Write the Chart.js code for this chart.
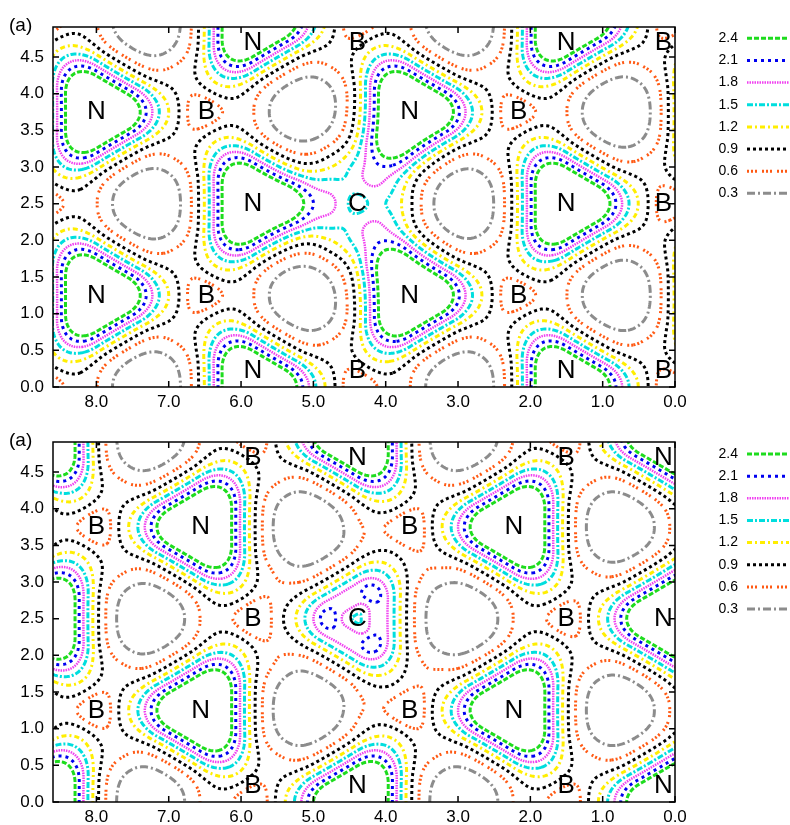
<!DOCTYPE html>
<html lang="en">
<head>
<meta charset="UTF-8" />
<title>Density contours</title>
<script src="https://cdn.jsdelivr.net/npm/chart.js"></script>
<style>
  html, body { margin: 0; padding: 0; background: #fff; }
  canvas { display: block; }
</style>
</head>
<body>
<canvas id="chartTop" width="790" height="412"></canvas>
<canvas id="chartBottom" width="790" height="413"></canvas>

<script>
// contour levels and their line styles
const levels = [2.4, 2.1, 1.8, 1.5, 1.2, 0.9, 0.6, 0.3];
const levelColors = ["#1edc1e", "#0000f0", "#f040f0", "#00dede", "#ffee00", "#000000", "#ff5a14", "#8c8c8c"];
const levelDash = [[5, 2], [3, 4], [1.5, 1], [6, 2, 2, 2], [5, 3, 2, 3], [3, 3], [2, 2, 2, 2, 2, 5], [8, 3, 2, 3]];
const levelWidth = [3, 3, 2.5, 3, 3, 3, 3, 3];

// axes
const xTicks = [8, 7, 6, 5, 4, 3, 2, 1, 0];
const yTicks = [0, 0.5, 1, 1.5, 2, 2.5, 3, 3.5, 4, 4.5];
const xRange = [0, 8.6];
const yRange = [0, 4.91];

// atom sites (Å); the lattice repeats every 4.33 x 2.5
const latticeStep = [4.33, 2.5];

// top panel: C sits on a B site
const topNX = [8.0, 8.0, 3.67, 3.67, 5.835, 5.835, 5.835, 1.505, 1.505, 1.505];
const topNY = [1.25, 3.75, 1.25, 3.75, 0.0, 2.5, 5.0, 0.0, 2.5, 5.0];
const topBX = [6.48, 6.48, 2.16, 2.16, 4.392, 4.392, 0.062, 0.062, 0.062];
const topBY = [1.25, 3.75, 1.25, 3.75, 0.0, 5.0, 0.0, 2.5, 5.0];
const topC = [4.392, 2.5];

// bottom panel: C sits on an N site
const botNX = [6.557, 6.557, 2.227, 2.227, 4.392, 4.392, 0.062, 0.062, 0.062];
const botNY = [1.25, 3.75, 1.25, 3.75, 0.0, 5.0, 0.0, 2.5, 5.0];
const botBX = [8.0, 8.0, 3.67, 3.67, 5.835, 5.835, 5.835, 1.505, 1.505, 1.505];
const botBY = [1.25, 3.75, 1.25, 3.75, 0.0, 2.5, 5.0, 0.0, 2.5, 5.0];
const botC = [4.392, 2.5];

// ---- density model around the atoms
const EPS = 0.21, N_AMP = 3.83, W2 = 0.623, P = 2.0;
const B_DIP = 0.15, B_W2 = 0.075;

function smooth(t) {
  t = Math.min(1, Math.max(0, t));
  return t * t * (3 - 2 * t);
}

// anisotropic distance: rounded triangle near the atom (vertices toward B),
// softer three-fold shape further out
function effDist(dx, dy, dir) {
  const r = Math.sqrt(dx * dx + dy * dy);
  if (r < 1e-9) return 0;
  const a0 = Math.max(0, -dir * dx);
  const a1 = Math.max(0, dir * 0.5 * dx + 0.866 * dy);
  const a2 = Math.max(0, dir * 0.5 * dx - 0.866 * dy);
  const sTri = 1.266 * Math.pow(Math.pow(a0, P) + Math.pow(a1, P) + Math.pow(a2, P), 1 / P);
  const cp = dir * dx / r;
  const c = 4 * cp * cp * cp - 3 * cp;
  const e = c > 0 ? EPS * Math.exp(-Math.pow(Math.max(0, r - 1), 2) / 0.1) : EPS;
  const sCos = r / (1 + e * c);
  const m = smooth((r - 0.8) / 0.5);
  return sTri * (1 - m) + sCos * m;
}

function expandSites(xs, ys, cPos) {
  const out = [];
  for (let k = 0; k < xs.length; k++) {
    for (const sx of [-1, 0, 1]) for (const sy of [-1, 0, 1]) {
      const px = xs[k] + sx * latticeStep[0], py = ys[k] + sy * latticeStep[1];
      if (Math.hypot(px - cPos[0], py - cPos[1]) < 0.1) continue;
      if (out.some(p => Math.hypot(p[0] - px, p[1] - py) < 0.1)) continue;
      out.push([px, py]);
    }
  }
  return out;
}

function density(x, y, nSites, bSites, dir, cPos, cOnB) {
  let v = 0;
  for (let k = 0; k < nSites.length; k++) {
    const dx = x - nSites[k][0], dy = y - nSites[k][1];
    if (dx * dx + dy * dy > 9) continue;
    const s = effDist(dx, dy, dir);
    v += N_AMP * Math.exp(-s * s / W2);
  }
  for (let k = 0; k < bSites.length; k++) {
    const dx = x - bSites[k][0], dy = y - bSites[k][1];
    const r2 = dx * dx + dy * dy;
    if (r2 < 1) v -= B_DIP * Math.exp(-r2 / B_W2);
  }
  const dx = x - cPos[0], dy = y - cPos[1];
  const r2 = dx * dx + dy * dy;
  if (r2 < 9) {
    if (cOnB) {
      v += 1.05 * Math.exp(-r2 / 0.5) - 0.25 * Math.exp(-r2 / 0.0144);
    } else {
      const s = effDist(dx, dy, dir);
      v += 2.95 * Math.exp(-s * s / W2) - 1.5 * Math.exp(-s * s / 0.0988);
      const dirs = [[dir, 0], [-dir / 2, 0.866], [-dir / 2, -0.866]];
      for (const u of dirs) {
        const bx = dx - 0.4 * u[0], by = dy - 0.4 * u[1];
        v += 0.35 * Math.exp(-(bx * bx + by * by) / 0.0169);
      }
    }
  }
  return v;
}

// ---- grid + marching squares
const GX0 = -0.3, GY0 = -0.3, GH = 0.025;
const GNX = Math.round((8.9 - GX0) / GH) + 1;
const GNY = Math.round((5.2 - GY0) / GH) + 1;

function buildField(nx, ny, bx, by, cPos, cOnB, dir) {
  const nSites = expandSites(nx, ny, cPos);
  const bSites = expandSites(bx, by, cPos);
  const f = new Float64Array(GNX * GNY);
  for (let j = 0; j < GNY; j++) {
    for (let i = 0; i < GNX; i++) {
      f[j * GNX + i] = density(GX0 + i * GH, GY0 + j * GH, nSites, bSites, dir, cPos, cOnB);
    }
  }
  return f;
}

function traceLevel(f, L) {
  const at = (i, j) => f[j * GNX + i];
  const segA = [], segB = [];
  const add = (a, b) => { segA.push(a); segB.push(b); };
  for (let j = 0; j < GNY - 1; j++) {
    for (let i = 0; i < GNX - 1; i++) {
      const v0 = at(i, j), v1 = at(i + 1, j), v2 = at(i + 1, j + 1), v3 = at(i, j + 1);
      const k = (v0 > L ? 1 : 0) | (v1 > L ? 2 : 0) | (v2 > L ? 4 : 0) | (v3 > L ? 8 : 0);
      if (k === 0 || k === 15) continue;
      const e0 = (j * GNX + i) * 2, e1 = (j * GNX + i + 1) * 2 + 1;
      const e2 = ((j + 1) * GNX + i) * 2, e3 = (j * GNX + i) * 2 + 1;
      const mid = (v0 + v1 + v2 + v3) / 4 > L;
      switch (k) {
        case 1: case 14: add(e3, e0); break;
        case 2: case 13: add(e0, e1); break;
        case 3: case 12: add(e3, e1); break;
        case 4: case 11: add(e1, e2); break;
        case 6: case 9: add(e0, e2); break;
        case 7: case 8: add(e2, e3); break;
        case 5: if (mid) { add(e0, e1); add(e2, e3); } else { add(e3, e0); add(e1, e2); } break;
        case 10: if (mid) { add(e3, e0); add(e1, e2); } else { add(e0, e1); add(e2, e3); } break;
      }
    }
  }
  const adj = new Map();
  for (let s = 0; s < segA.length; s++) {
    for (const key of [segA[s], segB[s]]) {
      if (!adj.has(key)) adj.set(key, []);
      adj.get(key).push(s);
    }
  }
  const point = key => {
    const node = key >> 1, i = node % GNX, j = (node - i) / GNX;
    const a = at(i, j);
    if ((key & 1) === 0) {
      const t = (L - a) / (at(i + 1, j) - a);
      return { x: GX0 + (i + t) * GH, y: GY0 + j * GH };
    }
    const t = (L - a) / (at(i, j + 1) - a);
    return { x: GX0 + i * GH, y: GY0 + (j + t) * GH };
  };
  const used = new Uint8Array(segA.length);
  const walk = (start) => {
    const out = [];
    let cur = start;
    for (;;) {
      let nxt = -1;
      for (const t of adj.get(cur)) if (!used[t]) { nxt = t; break; }
      if (nxt < 0) break;
      used[nxt] = 1;
      cur = segA[nxt] === cur ? segB[nxt] : segA[nxt];
      out.push(cur);
    }
    return out;
  };
  const data = [];
  for (let s = 0; s < segA.length; s++) {
    if (used[s]) continue;
    used[s] = 1;
    const fwd = walk(segB[s]);
    const back = walk(segA[s]).reverse();
    const keys = back.concat([segA[s], segB[s]], fwd);
    keys.forEach(key => data.push(point(key)));
    data.push({ x: null, y: null });
  }
  return data;
}

// ---- drawing extras: frame, inward ticks, atom labels, tag, legend
const decor = {
  id: "decor",
  afterDatasetsDraw(chart, args, opts) {
    const { ctx, chartArea: a, scales: { x, y } } = chart;
    ctx.save();
    ctx.setLineDash([]);
    ctx.strokeStyle = "#000";
    ctx.lineWidth = 1.5;
    ctx.strokeRect(a.left, a.top, a.right - a.left, a.bottom - a.top);
    ctx.beginPath();
    xTicks.forEach(v => {
      const px = x.getPixelForValue(v);
      ctx.moveTo(px, a.bottom); ctx.lineTo(px, a.bottom - 6);
      ctx.moveTo(px, a.top); ctx.lineTo(px, a.top + 6);
    });
    yTicks.forEach(v => {
      const py = y.getPixelForValue(v);
      ctx.moveTo(a.left, py); ctx.lineTo(a.left + 6, py);
      ctx.moveTo(a.right, py); ctx.lineTo(a.right - 6, py);
    });
    ctx.stroke();

    ctx.fillStyle = "#000";
    ctx.font = '26px "Liberation Sans", Arial, sans-serif';
    ctx.textAlign = "center";
    ctx.textBaseline = "middle";
    opts.atoms.forEach(([t, ax, ay]) => {
      const lx = Math.min(Math.max(ax, 0.16), 8.45);
      const ly = Math.min(Math.max(ay, 0.22), 4.7);
      ctx.fillText(t, x.getPixelForValue(lx), y.getPixelForValue(ly));
    });

    ctx.font = '19px "Liberation Sans", Arial, sans-serif';
    ctx.textAlign = "left";
    ctx.textBaseline = "alphabetic";
    ctx.fillText("(a)", 9, opts.tagY);

    ctx.font = '14px "Liberation Sans", Arial, sans-serif';
    levels.forEach((L, k) => {
      const ly = opts.legendY + k * 22.15;
      ctx.fillStyle = "#000";
      ctx.textAlign = "right";
      ctx.textBaseline = "middle";
      ctx.fillText(L.toFixed(1), 738, ly);
      ctx.strokeStyle = levelColors[k];
      ctx.lineWidth = levelWidth[k];
      ctx.setLineDash(levelDash[k]);
      ctx.beginPath();
      ctx.moveTo(747, ly); ctx.lineTo(789, ly);
      ctx.stroke();
    });
    ctx.restore();
  }
};

function atomList(nx, ny, bx, by, c) {
  const out = [];
  nx.forEach((v, k) => out.push(["N", v, ny[k]]));
  bx.forEach((v, k) => out.push(["B", v, by[k]]));
  out.push(["C", c[0], c[1]]);
  return out;
}

function makeChart(id, nx, ny, bx, by, c, cOnB, dir, top, axisH, tagY, legendY) {
  const f = buildField(nx, ny, bx, by, c, cOnB, dir);
  const datasets = levels.map((L, k) => ({
    label: L.toFixed(1),
    data: traceLevel(f, L),
    showLine: true,
    pointRadius: 0,
    borderColor: levelColors[k],
    borderWidth: levelWidth[k],
    borderDash: levelDash[k],
    fill: false,
    clip: 0
  }));
  const tickFont = { family: '"Liberation Sans", Arial, sans-serif', size: 17 };
  new Chart(document.getElementById(id), {
    type: "scatter",
    data: { datasets },
    options: {
      responsive: false,
      animation: false,
      events: [],
      devicePixelRatio: 1,
      layout: { padding: { left: 0, right: 115, top: top, bottom: 0 } },
      plugins: {
        legend: { display: false },
        tooltip: { enabled: false },
        decor: { atoms: atomList(nx, ny, bx, by, c), tagY, legendY }
      },
      scales: {
        x: {
          type: "linear", reverse: true, min: xRange[0], max: xRange[1],
          grid: { display: false, drawTicks: false },
          border: { display: false },
          ticks: { stepSize: 1, includeBounds: false, autoSkip: false, maxRotation: 0,
                   padding: 5, color: "#000", font: tickFont, callback: v => v.toFixed(1) },
          afterFit: s => { s.height = axisH; }
        },
        y: {
          type: "linear", min: yRange[0], max: yRange[1],
          grid: { display: false, drawTicks: false },
          border: { display: false },
          ticks: { stepSize: 0.5, includeBounds: false, autoSkip: false,
                   padding: 9, color: "#000", font: tickFont, callback: v => v.toFixed(1) },
          afterFit: s => { s.width = 53; }
        }
      }
    },
    plugins: [decor]
  });
}

makeChart("chartTop", topNX, topNY, topBX, topBY, topC, true, -1, 27, 25, 31, 38.3);
makeChart("chartBottom", botNX, botNY, botBX, botBY, botC, false, 1, 30, 23, 34, 42);
</script>
</body>
</html>
